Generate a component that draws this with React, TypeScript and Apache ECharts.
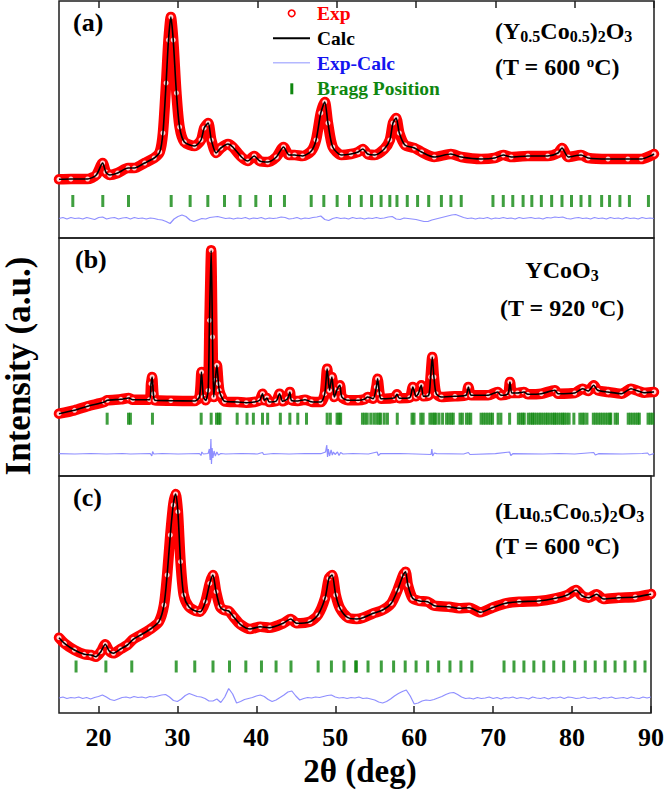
import React, { useEffect, useRef } from "react";
import * as echarts from "echarts";

const FONT = '"Liberation Serif", "Times New Roman", Times, serif';

const X_MIN = 15;
const X_MAX = 90;
const X_TICKS = [20, 30, 40, 50, 60, 70, 80, 90];

// Panel (a) (Y0.5Co0.5)2O3, 600 C : [2theta, intensity a.u.]
const CALC_A: [number, number][] = [
  [15, 58.7], [16.5, 59], [18.6, 59], [19.7, 63], [20.5, 75], [20.9, 66], [21.4, 63], [22.4, 65],
  [23.7, 70], [24.5, 70], [25.8, 75], [27.0, 80], [27.7, 86], [28.1, 105], [28.5, 155], [28.8, 198],
  [29.1, 221], [29.4, 198], [29.8, 145], [30.2, 111], [30.8, 96], [32.1, 92], [32.9, 98], [33.3, 110],
  [33.8, 115], [34.2, 98], [34.8, 85], [35.4, 90], [36.3, 94], [36.9, 91], [38.0, 81], [38.8, 77],
  [39.6, 82], [40.3, 77], [41.3, 76], [42.4, 81], [43.3, 91], [44.0, 83], [44.7, 83], [45.7, 82],
  [46.8, 87], [47.4, 98], [48.0, 125], [48.5, 136], [48.9, 115], [49.5, 91], [50.6, 83], [51.8, 84],
  [52.7, 86], [53.3, 89], [53.9, 84], [54.8, 83], [56.0, 89], [56.7, 98], [57.1, 115], [57.5, 120],
  [57.9, 105], [58.6, 93], [59.8, 90], [60.7, 86], [62.3, 81], [64.4, 84], [65.7, 81], [68.2, 79],
  [69.9, 80], [71.0, 83], [72.0, 81], [74.1, 82], [76.6, 82], [77.9, 85], [78.4, 90], [79.2, 81],
  [80.8, 83], [81.7, 80], [84.2, 79], [86.7, 79], [88.4, 79], [89.8, 83], [90, 84],
];
const BRAGG_A = [
  16.74, 20.52, 23.76, 29.14, 31.53, 33.76, 35.86, 37.83, 39.81, 41.66, 43.42, 46.79, 48.38, 50.06,
  51.62, 53.1, 54.4, 55.6, 56.7, 57.6, 58.9, 60.2, 61.6, 63.2, 64.4, 65.7, 69.7, 71.0, 72.2, 73.5,
  74.6, 75.8, 77.1, 78.4, 79.6, 80.8, 81.9, 83.4, 84.4, 85.7, 86.9, 89.3,
];
// Exp-Calc, sampled every 0.5 deg from 15 to 90
const DIFF_A = [
  19.5, 20.5, 19, 20.5, 19.5, 20, 19, 20.5, 19.5, 18.5,
  20.5, 21, 19, 20, 20.5, 19, 20, 20.5, 19, 20.5,
  19.5, 20, 19, 20, 19.5, 18.5, 18, 16.5, 14.5, 19,
  21.5, 23, 21.5, 18, 16.5, 18, 19.5, 19, 20.5, 21,
  21.5, 20.5, 19.5, 20, 19, 20, 19.5, 20.5, 19, 20,
  19.5, 20.5, 19, 20, 19.5, 20, 21, 20.5, 19, 19.5,
  20.5, 19, 20, 19.5, 20.5, 21, 22, 18.5, 17.5, 19.5,
  20.5, 19.5, 20, 19, 20.5, 19.5, 20, 19, 20, 19.5,
  20.5, 19.5, 20, 21, 21.5, 19, 18.5, 20, 19.5, 19,
  18.5, 17.5, 16.5, 16.5, 18, 19, 20, 21, 22, 23,
  23.5, 22, 20.5, 19.5, 20, 19, 20, 19.5, 20.5, 19,
  20, 19.5, 20.5, 19.5, 20, 19, 20.5, 19.5, 20, 20.5,
  19.5, 20, 19, 20.5, 20, 21, 20.5, 21, 19.5, 19,
  20, 20.5, 19.5, 20, 19, 20.5, 19.5, 20, 19, 20.5,
  19.5, 20, 19, 20.5, 19.5, 20, 19, 20.5, 19.5, 20,
  19.5,
];

// Panel (b) YCoO3, 920 C
const CALC_B: [number, number][] = [
  [15, 62.3], [16.95, 65.7], [18.6, 69.7], [20.7, 74], [21.1, 75.7], [22.8, 76.7], [23.8, 78],
  [24.3, 76.3], [26.4, 76.3], [26.6, 92.3], [26.74, 99], [26.9, 82.3], [27.1, 75.7], [29.1, 75.3],
  [32.1, 75], [32.7, 79], [32.96, 104], [33.2, 79], [33.5, 75.7], [33.8, 85.7], [33.97, 155.7],
  [34.18, 225.7], [34.35, 139], [34.5, 79], [34.7, 95.7], [34.9, 110.7], [35.1, 92.3], [35.2, 85.7],
  [35.4, 80.7], [35.86, 74.7], [37.5, 74], [38.6, 73.3], [39.6, 74], [40.3, 75.7], [40.65, 82.3],
  [40.9, 75.7], [41.2, 78], [41.5, 74], [42.4, 75], [42.8, 82.3], [43.2, 74.7], [43.8, 77.3],
  [44.1, 84], [44.3, 75.7], [45.1, 75], [46.0, 76.3], [46.8, 74.3], [48.0, 74], [48.5, 82.3],
  [48.8, 107.3], [49.1, 85.7], [49.4, 99], [49.7, 79], [50.1, 87.3], [50.4, 90.7], [50.65, 79],
  [51.4, 75.7], [52.7, 75.7], [53.5, 76.7], [53.9, 79], [54.6, 77.3], [55.0, 89], [55.16, 97.3],
  [55.4, 82.3], [55.6, 77.3], [57.3, 78.3], [57.6, 81.7], [57.9, 77.7], [59.2, 78.3], [59.6, 89],
  [60.0, 79.7], [60.3, 82.3], [60.66, 90.7], [60.96, 79.7], [61.6, 80.7], [61.84, 99], [62.05, 119],
  [62.26, 99], [62.55, 82.3], [63.2, 79], [64.9, 79.7], [66.3, 80.7], [66.6, 89], [66.97, 80.7],
  [69.1, 80.7], [70.3, 84], [70.7, 80.7], [71.6, 82.3], [71.84, 94], [72.1, 83], [72.8, 83],
  [73.6, 84], [74.1, 81.7], [75.8, 82.3], [77.5, 85.7], [77.9, 82.3], [80.0, 83], [81.0, 87.3],
  [81.7, 85], [82.4, 90.7], [82.9, 85.7], [84.2, 84], [85.9, 82.3], [87.1, 87.3], [88.0, 85],
  [88.8, 83.3], [89.9, 84], [90, 84],
];
const BRAGG_B = [
  21.07, 23.76, 24.0, 26.78, 32.92, 34.18, 34.85, 35.1, 35.3, 37.46, 38.7, 39.5, 40.65, 41.3, 42.9,
  44.1, 45.1, 46.2, 48.8, 49.2, 50.05, 50.3, 50.5, 53.25, 53.55, 53.85, 54.3, 54.7, 55.05, 55.35,
  55.55, 56.0, 56.4, 57.64, 59.5, 59.75, 60.6, 60.9, 61.75, 62.05, 62.3, 62.5, 62.9, 63.35, 63.85,
  64.15, 64.45, 64.7, 65.55, 65.85, 66.35, 66.65, 66.9, 68.2, 68.5, 68.8, 69.1, 69.4, 69.65, 70.35,
  70.7, 71.8, 72.9, 73.2, 73.45, 73.65, 74.15, 74.45, 74.7, 74.9, 75.2, 75.5, 75.75, 76.05, 76.35,
  76.6, 76.9, 77.2, 77.45, 77.65, 77.95, 78.25, 78.5, 78.7, 79.0, 79.3, 79.9, 80.65, 80.95, 81.2,
  81.55, 82.35, 82.65, 82.95, 83.25, 83.55, 83.85, 84.15, 84.45, 84.55, 85.1, 85.4, 86.75, 87.05,
  87.35, 87.65, 87.95, 88.15, 89.25, 89.55, 89.85,
];
const DIFF_B: [number, number][] = [
  [15, 22.3], [17, 22], [19, 22.5], [21, 22], [23, 22.5], [24, 22], [26.5, 22.5], [26.7, 20],
  [26.8, 24.5], [26.95, 22], [28, 22.5], [30, 22], [32.7, 22.5], [32.9, 20.5], [33.0, 24], [33.2, 22],
  [33.8, 22.5], [33.95, 27], [34.05, 16], [34.15, 37], [34.22, 12], [34.3, 28], [34.4, 18],
  [34.55, 25], [34.7, 20], [34.9, 24], [35.1, 21], [35.4, 22.5], [36, 22], [38, 22.5], [40, 22],
  [40.65, 23.5], [40.8, 21.5], [42, 22.5], [44, 22], [46, 22.5], [48, 22.3], [48.6, 24], [48.75, 31],
  [48.85, 19], [48.95, 27], [49.1, 20], [49.3, 26], [49.45, 21], [49.6, 24], [49.8, 21.5],
  [50.1, 24], [50.3, 20.5], [50.5, 23.5], [50.8, 22], [52, 22.5], [54, 22], [55.1, 24],
  [55.25, 20.5], [55.5, 22.3], [58, 22.5], [60, 22], [61.9, 21.5], [62.0, 27], [62.1, 20],
  [62.3, 23], [62.6, 22.3], [66, 22], [66.6, 23.5], [66.8, 21.5], [70, 22.3], [71.8, 24],
  [71.95, 20.5], [72.2, 22.3], [76, 22], [78, 22.5], [80, 22], [82.4, 23.5], [82.6, 21], [83, 22.3],
  [86, 22], [88.5, 22.5], [89.2, 23], [89.4, 21], [90, 22.3],
];

// Panel (c) (Lu0.5Co0.5)2O3, 600 C
const CALC_C: [number, number][] = [
  [15, 75.3], [15.69, 69.7], [16.95, 63], [18.2, 58.7], [19.05, 58], [19.68, 56.3], [20.3, 61.3],
  [20.86, 68.7], [21.36, 62], [21.9, 59.7], [22.8, 64], [23.67, 68], [24.4, 73.7], [25.35, 78],
  [26.6, 84], [27.66, 91.3], [28.3, 108], [28.7, 138], [29.1, 178], [29.47, 208], [29.77, 219],
  [30.06, 201.3], [30.4, 151.3], [30.8, 118], [31.45, 106.3], [32.3, 102], [32.9, 101.3],
  [33.55, 111.3], [34.1, 129.7], [34.5, 138], [34.9, 121.3], [35.4, 106.3], [35.9, 103], [36.5, 102],
  [37.1, 96.3], [37.96, 88.7], [39.2, 84], [40.5, 86.3], [41.7, 85.3], [43.4, 89.7], [44.35, 94],
  [45.1, 89.7], [46.8, 91.3], [47.8, 98], [48.7, 114.7], [49.2, 134.7], [49.6, 138], [50.06, 118],
  [50.6, 104.7], [51.6, 95.3], [52.7, 94], [53.5, 95.3], [54.8, 99.7], [56.0, 103], [57.1, 109.7],
  [57.9, 123], [58.6, 138], [58.9, 141.3], [59.2, 128], [59.8, 114.7], [60.66, 112], [61.7, 111.3],
  [62.55, 107.3], [64.4, 106.3], [65.7, 104.7], [66.97, 105.3], [68.4, 100.7], [69.9, 105.3],
  [71.6, 109.7], [73.3, 111.3], [75.8, 112], [77.9, 114.7], [79.4, 118], [80.5, 123], [81.25, 117.3],
  [82.1, 115.3], [83.1, 118.7], [84.0, 114], [85.9, 115.3], [88.0, 116], [89.9, 118.7], [90, 119],
];
const BRAGG_C = [
  17.16, 20.94, 24.22, 29.85, 32.2, 34.51, 36.6, 38.67, 40.65, 42.5, 44.39, 47.83, 49.51, 51.11,
  52.58, 52.68, 54.15, 55.83, 57.39, 58.86, 60.24, 61.71, 63.1, 64.53, 65.92, 67.3, 71.38, 72.64,
  73.9, 75.16, 76.42, 77.68, 78.94, 80.33, 81.67, 82.93, 84.19, 85.45, 86.71, 87.97, 89.24,
];
const DIFF_C = [
  15, 16, 14.5, 15.5, 15, 16, 14.5, 15.5, 14, 15.5,
  16.5, 18, 16, 13.5, 12.5, 14, 15.5, 16, 15, 16.5,
  15.5, 16, 15, 16.5, 16, 17, 18, 18.5, 16, 12.5,
  11.5, 14, 17.5, 19.5, 18, 16.5, 16, 14.5, 12, 12,
  14, 10.5, 16, 24.5, 19, 10, 11.5, 13.5, 14.5, 15.5,
  17, 18, 16.5, 13.5, 11.5, 13, 15.5, 18, 21, 22,
  17, 13, 14.5, 15.5, 15, 16, 15.5, 16.5, 17.5, 18,
  16, 15, 15.5, 14.5, 15.5, 15, 16, 14.5, 15, 14,
  13, 11, 10, 11.5, 14, 17, 19.5, 21.5, 23, 17,
  9, 10, 12, 13, 12.5, 13.5, 15, 16.5, 18.5, 20,
  20.5, 18.5, 16, 14.5, 15, 14, 15.5, 14.5, 15, 16,
  14.5, 15.5, 14, 15.5, 15, 16, 14.5, 15.5, 15, 14,
  16, 15, 14.5, 15.5, 14, 15.5, 15, 16, 14.5, 16,
  15.5, 14.5, 15, 16, 14.5, 15, 15.5, 14, 15.5, 15,
  16, 14.5, 15, 15.5, 14.5, 16, 15, 14.5, 16, 15,
  16,
];
const DIFF_STEP = 0.5;

// levels (a.u.) of Bragg tick rows
const BRAGG_LEVEL = [37, 57.3, 46.5];

const PANEL_LABELS = ["(a)", "(b)", "(c)"];

const C_EXP = "#ff0000";
const C_CALC = "#000000";
const C_DIFF = "#7a7aff";
const C_BRAGG = "#0f870f";
const C_BLUE = "#1414f0";

export default function App() {
  const ref = useRef<HTMLDivElement>(null);
  useEffect(() => {
    if (!ref.current) return;
    const chart = echarts.init(ref.current, undefined, { renderer: "svg" });

    const grids = [
      { top: 1, height: 237 },
      { top: 238, height: 238 },
      { top: 476, height: 237 },
    ];
    const calcs = [CALC_A, CALC_B, CALC_C];
    const braggs = [BRAGG_A, BRAGG_B, BRAGG_C];
    const diffs: [number, number][][] = [
      DIFF_A.map((v, i) => [X_MIN + i * DIFF_STEP, v] as [number, number]),
      DIFF_B,
      DIFF_C.map((v, i) => [X_MIN + i * DIFF_STEP, v] as [number, number]),
    ];

    const xAxes: any[] = grids.map((_, i) => ({
      type: "value",
      gridIndex: i,
      min: X_MIN,
      max: X_MAX,
      position: "bottom",
      splitLine: { show: false },
      axisLine: { show: false },
      axisTick: i === 2
        ? { show: true, inside: true, length: 7, customValues: X_TICKS, lineStyle: { color: "#222", width: 1.5 } }
        : { show: false },
      axisLabel: i === 2
        ? {
            show: true,
            customValues: X_TICKS,
            margin: 11,
            color: "#000",
            fontFamily: FONT,
            fontWeight: "bold",
            fontSize: 26,
          }
        : { show: false },
    }));
    xAxes.push({
      type: "value",
      gridIndex: 0,
      min: X_MIN,
      max: X_MAX,
      position: "top",
      splitLine: { show: false },
      axisLine: { show: false },
      axisTick: { show: true, inside: true, length: 7, customValues: X_TICKS, lineStyle: { color: "#222", width: 1.5 } },
      axisLabel: { show: false },
    });

    const yAxes = grids.map((g, i) => ({
      type: "value",
      gridIndex: i,
      min: 0,
      max: g.height,
      show: false,
    }));

    const series: any[] = [];
    grids.forEach((_, i) => {
      series.push({
        name: "Exp",
        type: "line",
        xAxisIndex: i,
        yAxisIndex: i,
        data: calcs[i],
        smooth: 0.25,
        symbol: "circle",
        symbolSize: 7,
        showSymbol: true,
        showAllSymbol: true,
        itemStyle: { color: "#ffd6d6", borderColor: C_EXP, borderWidth: 2 },
        lineStyle: { color: C_EXP, width: 10.5, join: "round", cap: "round" },
        z: 2,
        silent: true,
      });
      series.push({
        name: "Exp-Calc",
        type: "line",
        xAxisIndex: i,
        yAxisIndex: i,
        data: diffs[i],
        showSymbol: false,
        lineStyle: { color: C_DIFF, width: 1.2, opacity: 0.85 },
        z: 3,
        silent: true,
      });
      series.push({
        name: "Bragg Position",
        type: "scatter",
        xAxisIndex: i,
        yAxisIndex: i,
        data: braggs[i].map((b) => [b, BRAGG_LEVEL[i]]),
        symbol: "rect",
        symbolSize: [3, 12],
        itemStyle: { color: C_BRAGG },
        z: 3,
        silent: true,
      });
      series.push({
        name: "Calc",
        type: "line",
        xAxisIndex: i,
        yAxisIndex: i,
        data: calcs[i],
        smooth: 0.25,
        showSymbol: false,
        lineStyle: { color: C_CALC, width: 1.6 },
        z: 5,
        silent: true,
      });
    });

    const bold = { fontFamily: FONT, fontWeight: "bold" as const };
    const txt = (x: number, y: number, text: string, fontSize: number, fill: string, align = "left", extra: any = {}) => ({
      type: "text",
      x,
      y,
      silent: true,
      z: 100,
      style: { text, fontSize, fill, align, verticalAlign: "middle", ...bold, ...extra },
    });
    const rich = {
      s: { fontSize: 16, ...bold, fill: "#000", verticalAlign: "bottom", lineHeight: 6 },
      p: { fontSize: 15, ...bold, fill: "#000", verticalAlign: "top", lineHeight: 12 },
      m: { fontSize: 24, ...bold, fill: "#000", lineHeight: 26 },
    };
    const formula = (x: number, y: number, text: string, align = "left") =>
      txt(x, y, text, 24, "#000", align, { rich, lineHeight: 26 });

    const graphic: any[] = [
      // panel labels
      txt(73, 22, PANEL_LABELS[0], 26, "#000"),
      txt(75, 259, PANEL_LABELS[1], 26, "#000"),
      txt(73, 497, PANEL_LABELS[2], 26, "#000"),
      // legend
      { type: "circle", shape: { cx: 291.7, cy: 13.3, r: 3.3 }, style: { fill: "#fff", stroke: C_EXP, lineWidth: 1.6 }, z: 100, silent: true },
      txt(317, 13.5, "Exp", 19.5, C_EXP),
      { type: "line", shape: { x1: 273, y1: 38.3, x2: 310, y2: 38.3 }, style: { stroke: C_CALC, lineWidth: 2 }, z: 100, silent: true },
      txt(317, 38.5, "Calc", 19.5, "#000"),
      { type: "line", shape: { x1: 273, y1: 62.7, x2: 310, y2: 62.7 }, style: { stroke: "#b4b8ff", lineWidth: 1.5 }, z: 100, silent: true },
      txt(317, 63, "Exp-Calc", 19.5, C_BLUE),
      { type: "rect", shape: { x: 290.3, y: 83.3, width: 3, height: 11 }, style: { fill: C_BRAGG }, z: 100, silent: true },
      txt(317, 88, "Bragg Position", 19.5, C_BRAGG),
      // compositions
      formula(495, 31, "{m|(Y}{s|0.5}{m|Co}{s|0.5}{m|)}{s|2}{m|O}{s|3}"),
      formula(495, 67, "{m|(T = 600 }{p|o}{m|C)}"),
      formula(562, 270, "{m|YCoO}{s|3}", "center"),
      formula(562, 308, "{m|(T = 920 }{p|o}{m|C)}", "center"),
      formula(495, 511, "{m|(Lu}{s|0.5}{m|Co}{s|0.5}{m|)}{s|2}{m|O}{s|3}"),
      formula(495, 546, "{m|(T = 600 }{p|o}{m|C)}"),
      // axis titles
      txt(360, 771, "2θ (deg)", 33, "#000", "center"),
      { ...txt(18, 366, "Intensity (a.u.)", 35, "#000", "center"), rotation: Math.PI / 2 },
    ];

    chart.setOption({
      animation: false,
      backgroundColor: "#ffffff",
      grid: grids.map((g) => ({
        left: 59,
        right: 13,
        top: g.top,
        height: g.height,
        show: true,
        borderColor: "#1e1e1e",
        borderWidth: 1.5,
        backgroundColor: "transparent",
      })),
      xAxis: xAxes,
      yAxis: yAxes,
      series,
      graphic,
    });
    return () => chart.dispose();
  }, []);
  return <div ref={ref} style={{ width: 667, height: 792, position: "absolute", left: 0, top: 0 }} />;
}
